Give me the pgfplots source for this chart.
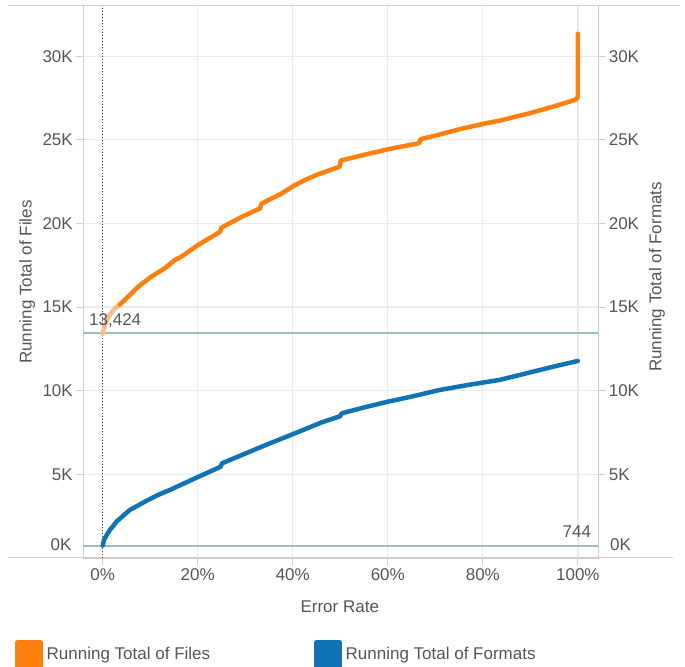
\documentclass[border=0pt]{standalone}
\usepackage{fontspec}
\setmainfont{Liberation Sans}
\usepackage{pgfplots}
\pgfplotsset{compat=1.18}

\definecolor{filesorange}{RGB}{255,127,14}
\definecolor{fileslight}{RGB}{255,190,135}
\definecolor{formatsblue}{RGB}{16,115,181}
\definecolor{refgreen}{RGB}{150,196,170}
\definecolor{gridgray}{RGB}{234,234,234}
\definecolor{axisgray}{RGB}{205,205,205}
\definecolor{textgray}{RGB}{85,85,85}
\definecolor{dotgray}{RGB}{70,70,70}

\begin{document}
\begin{tikzpicture}[font=\fontsize{17bp}{20bp}\selectfont]
\useasboundingbox (0,0) rectangle (685bp,667bp);

% frame lines that run past the plot area
\draw[axisgray, line width=1bp] (8bp,661bp) -- (680bp,661bp);
\draw[axisgray, line width=1bp] (8bp,109bp) -- (673bp,109bp);

\begin{axis}[
    name=main,
    at={(83.3bp,109bp)}, anchor=south west,
    scale only axis, width=515bp, height=552bp,
    xmin=-4.08, xmax=104.3,
    ymin=0, ymax=33000,
    xtick={0,20,...,100},
    xticklabels={0\%,20\%,40\%,60\%,80\%,100\%},
    ytick={5000,10000,...,30000},
    yticklabels={5K,10K,15K,20K,25K,30K},
    scaled y ticks=false,
    grid=major,
    major grid style={gridgray, line width=1.3bp},
    axis line style={axisgray, line width=1bp},
    tick style={axisgray, line width=1bp},
    major tick length=7bp,
    tick align=outside,
    xtick pos=bottom, ytick pos=left,
    tick label style={text=textgray},
    xlabel={Error Rate},
    ylabel={Running Total of Files},
    every axis x label/.style={at={(axis description cs:0.498,-0.0888)}, anchor=center, text=textgray},
    every axis y label/.style={at={(axis description cs:-0.109,0.5)}, rotate=90, anchor=center, text=textgray},
    legend columns=2,
    legend cell align=left,
    legend image code/.code={\fill[#1] (0bp,-12bp) rectangle (23bp,12bp);},
    legend style={
        at={(axis description cs:-0.1326,-0.2011)}, anchor=south west,
        draw=none, fill=none, inner sep=0pt,
        /tikz/every even column/.append style={column sep=100bp},
        nodes={inner sep=4bp, text=textgray}
    },
]

% reference lines
\addplot[forget plot, color=refgreen, solid, line width=2bp] coordinates {(-4.08,13424) (104.3,13424)};
\addplot[forget plot, color=refgreen, solid, line width=2bp] coordinates {(-4.08,744) (104.3,744)};
\addplot[forget plot, dotgray, line width=1.2bp, dash pattern=on 1.3bp off 1.7bp] coordinates {(0,0) (0,33000)};

% start of the files line (lighter)
\addplot[forget plot, fileslight, line width=4.5bp, line cap=round, line join=round]
table {
0 13424
0.3 13750
1.2 14430
2.6 14930
3.7 15180
};

\addplot[filesorange, line width=4.5bp, line cap=round, line join=round]
table {
3.6 15150
5.4 15630
7.5 16230
10.3 16830
13.1 17330
15.2 17820
16.6 18020
20.1 18720
24.7 19500
25.0 19750
29.3 20400
33.1 20900
33.4 21180
37.7 21800
40.5 22300
42.6 22600
45.0 22900
49.9 23400
50.1 23760
55.0 24100
60.1 24440
66.6 24800
66.9 25040
70.0 25250
75.2 25640
80.0 25950
83.6 26150
90.0 26600
95.0 27000
99.5 27400
100 27550
100 31340
};
\addlegendentry{Running Total of Files}

\addplot[formatsblue, line width=4.5bp, line cap=round, line join=round]
table {
0 744
0.3 1100
1.0 1450
1.5 1670
3.0 2200
5.0 2700
5.7 2870
8.9 3370
11.5 3750
14.0 4050
20.1 4850
24.8 5450
25.1 5660
29.3 6160
33.5 6660
39.1 7300
42.6 7700
46.0 8100
50.0 8480
50.3 8650
55.0 9000
60.1 9350
65.0 9650
71.0 10050
77.0 10350
83.6 10650
90.0 11100
95.0 11450
100 11780
};
\addlegendentry{Running Total of Formats}

\node[anchor=base west, inner sep=0pt, text=textgray] at (axis cs:-2.88,13870) {13,424};
\node[anchor=base east, inner sep=0pt, text=textgray] at (axis cs:102.8,1200) {744};
\end{axis}

\begin{axis}[
    at={(83.3bp,109bp)}, anchor=south west,
    scale only axis, width=515bp, height=552bp,
    xmin=-4.08, xmax=104.3,
    ymin=0, ymax=33000,
    axis x line=none,
    axis y line*=right,
    ytick={5000,10000,...,30000},
    yticklabels={5K,10K,15K,20K,25K,30K},
    scaled y ticks=false,
    axis line style={axisgray, line width=1bp, -},
    tick style={axisgray, line width=1bp},
    major tick length=7bp,
    tick align=outside,
    tick label style={text=textgray},
    ylabel={Running Total of Formats},
    every axis y label/.style={at={(axis description cs:1.114,0.509)}, rotate=90, anchor=center, text=textgray},
]
\end{axis}

% zero labels sit raised inside the pane, as in the reference
\node[anchor=east, inner sep=0pt, text=textgray] at ([xshift=-11.6bp,yshift=13bp]main.south west) {0K};
\node[anchor=west, inner sep=0pt, text=textgray] at ([xshift=11.7bp,yshift=13bp]main.south east) {0K};
\end{tikzpicture}
\end{document}
